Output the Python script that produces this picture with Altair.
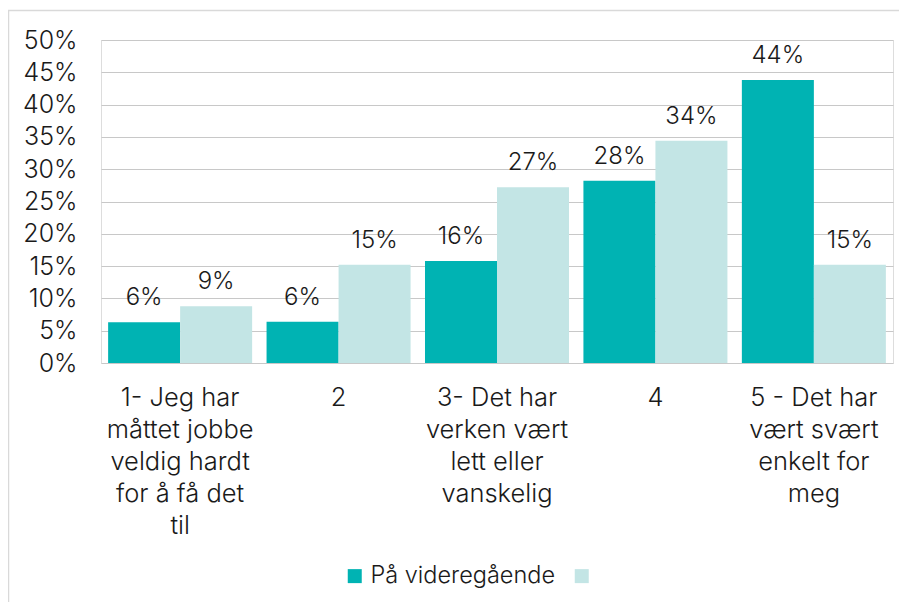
import altair as alt
import pandas as pd

categories = [
    "1- Jeg har\nmåttet jobbe\nveldig hardt\nfor å få det\ntil",
    "2",
    "3- Det har\nverken vært\nlett eller\nvanskelig",
    "4",
    "5 - Det har\nvært svært\nenkelt for\nmeg",
]
series_names = ["På videregående", " "]
series_a = [6.3, 6.4, 15.8, 28.2, 43.8]
series_b = [8.8, 15.2, 27.2, 34.4, 15.2]
colors = ["#00B3B3", "#C3E5E5"]
y_ticks = [0, 5, 10, 15, 20, 25, 30, 35, 40, 45, 50]

rows = []
for c, a, b in zip(categories, series_a, series_b):
    rows.append({"cat": c, "series": series_names[0], "value": a / 100})
    rows.append({"cat": c, "series": series_names[1], "value": b / 100})
df = pd.DataFrame(rows)

FONT = "Inter"
FW = 300
TXT = "#1a1a1a"
W, H = 792, 323

x = alt.X("cat:N", sort=categories, title=None,
          scale=alt.Scale(paddingInner=0.091, paddingOuter=0.045),
          axis=alt.Axis(labelAngle=0, labelExpr="split(datum.label, '\\n')",
                        labelFontSize=25.5, labelFont=FONT, labelFontWeight=FW, labelColor=TXT,
                        labelPadding=22, labelLineHeight=32, labelBaseline="top",
                        domain=False, ticks=False, labelLimit=300))
y = alt.Y("value:Q", title=None,
          scale=alt.Scale(domain=[0, 0.5], nice=False),
          axis=alt.Axis(values=[v / 100 for v in y_ticks], format=".0%",
                        labelFontSize=25, labelFont=FONT, labelFontWeight=FW, labelColor=TXT,
                        labelPadding=24, labelOverlap=False, domain=False, ticks=False,
                        grid=True, gridColor="#c8c8c8", gridWidth=1.2))
color = alt.Color("series:N", sort=series_names,
                  scale=alt.Scale(domain=series_names, range=colors),
                  legend=alt.Legend(title=None, orient="none", direction="horizontal",
                                    legendX=242, legendY=524, symbolType="square",
                                    symbolSize=196, symbolStrokeWidth=0,
                                    labelFontSize=23.5, labelFont=FONT, labelFontWeight=FW,
                                    labelColor=TXT, labelLimit=400,
                                    labelOffset=4, columnPadding=14, padding=0))
xoff = alt.XOffset("series:N", sort=series_names, scale=alt.Scale(paddingInner=0))

base = alt.Chart(df)
bars = base.mark_bar().encode(x=x, y=y, color=color, xOffset=xoff)
labels = base.mark_text(fontSize=24, font=FONT, fontWeight=FW, color=TXT,
                        baseline="alphabetic", dy=-17).encode(
    x=x, xOffset=xoff, y=y,
    text=alt.Text("value:Q", format=".0%"))

frame = alt.Chart(pd.DataFrame({"f": [0]})).mark_rect(
    fill=None, stroke="#d9d9d9", strokeWidth=1.5).encode(
    x=alt.value(-92.5), x2=alt.value(W + 40), y=alt.value(-29.5), y2=alt.value(H + 300))

chart = alt.layer(frame, bars, labels).properties(
    width=W, height=H,
    autosize=alt.AutoSizeParams(type="none"),
    padding={"left": 93, "top": 32, "right": 6, "bottom": 239},
).configure_view(stroke=None).configure(font=FONT)

chart.save("out.html", embed_options={"renderer": "svg", "actions": False})
